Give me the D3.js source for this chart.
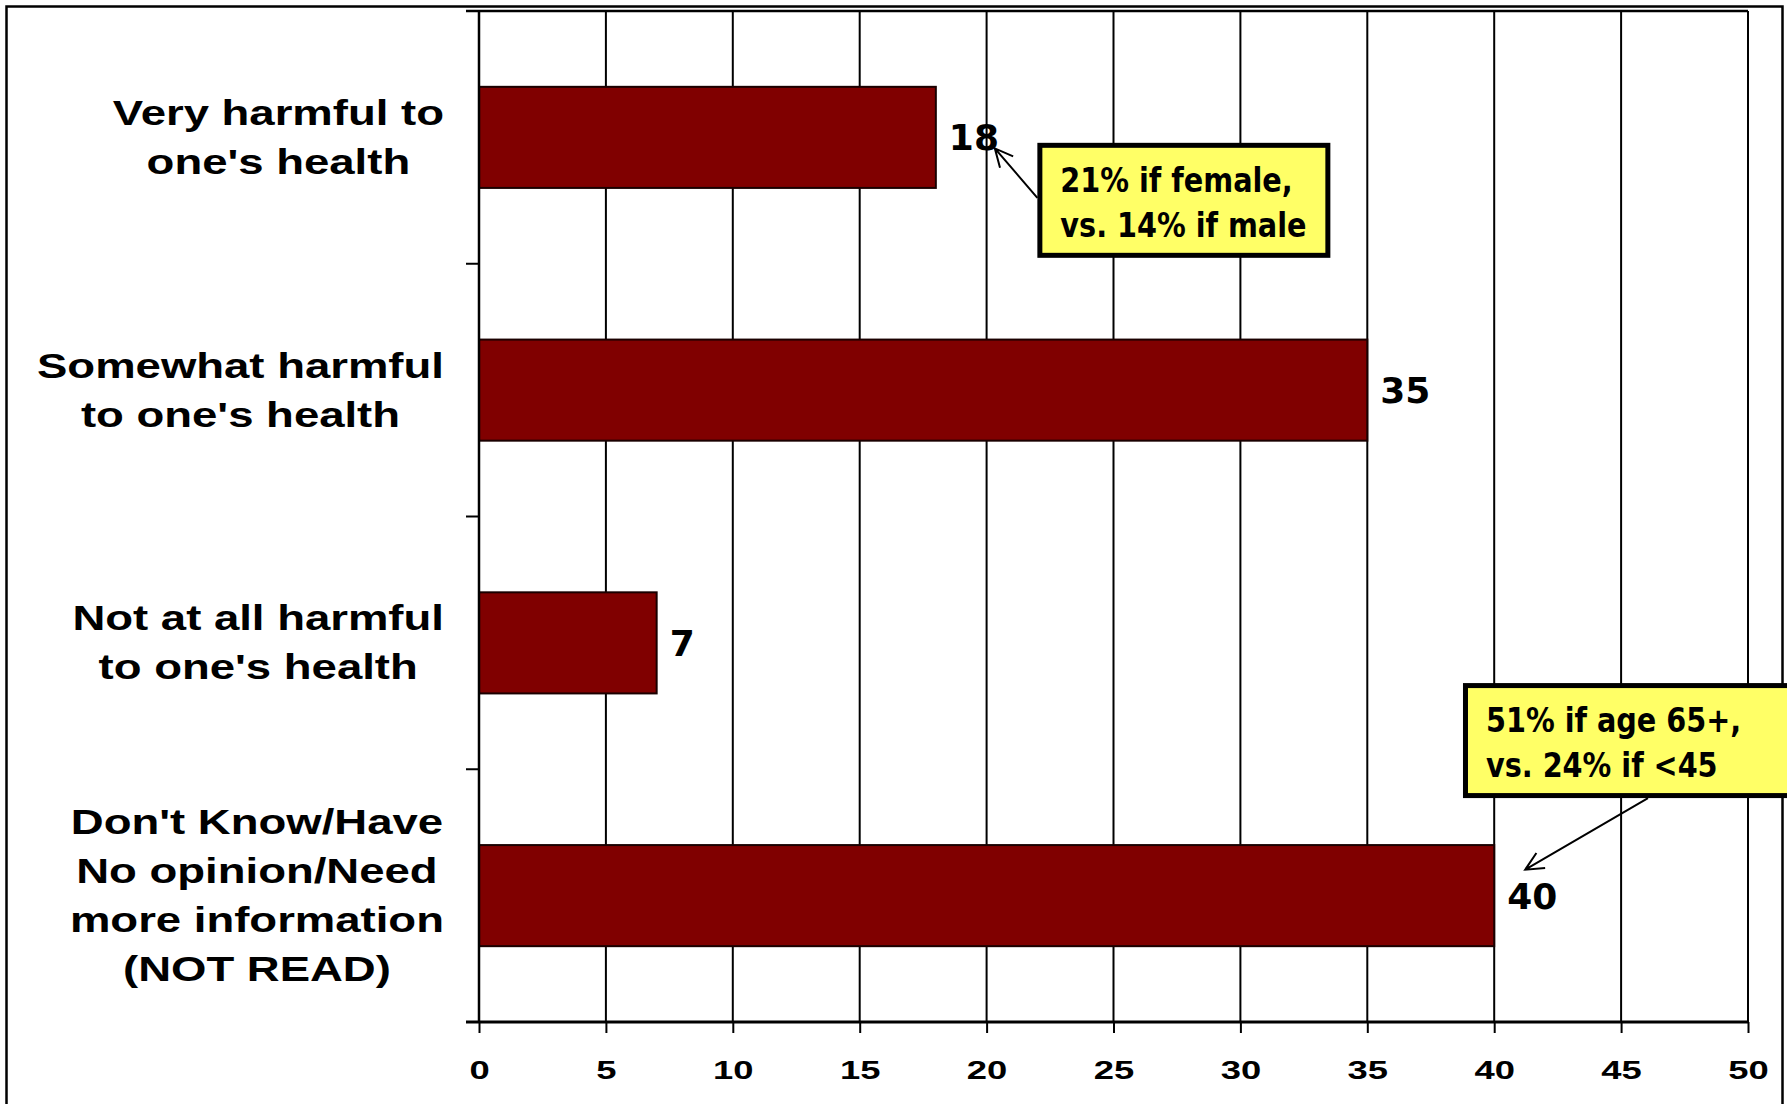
<!DOCTYPE html>
<html>
<head>
<meta charset="utf-8">
<script src="https://cdn.jsdelivr.net/npm/d3@7/dist/d3.min.js"></script>
<style>
  html, body { margin: 0; padding: 0; background: #fff; }
  svg { display: block; }
</style>
</head>
<body>
<svg id="chart" width="1787" height="1104"></svg>
<script>
// ---- data ----
const categories = [
  "Very harmful to\none's health",
  "Somewhat harmful\nto one's health",
  "Not at all harmful\nto one's health",
  "Don't Know/Have\nNo opinion/Need\nmore information\n(NOT READ)"
];
const values = [18, 35, 7, 40];
const xTicks = [0, 5, 10, 15, 20, 25, 30, 35, 40, 45, 50];
const noteTexts = [
  ["21% if female,", "vs. 14% if male"],
  ["51% if age 65+,", "vs. 24% if <45"]
];
const noteTargets = [0, 3]; // index of the bar each note points to

// ---- layout ----
const svg = d3.select("#chart");
const W = 1787, H = 1104;
const plot = { left: 479, right: 1748, top: 11, bottom: 1022 };

const x = d3.scaleLinear().domain([0, 50]).range([plot.left, plot.right]);
const y = d3.scaleBand().domain(categories)
  .range([plot.top, plot.bottom]).paddingInner(0.6).paddingOuter(0.3);
const step = y.step();

// outer frame
svg.append("rect")
  .attr("x", 6.5).attr("y", 6.5).attr("width", 1776).attr("height", H + 20)
  .attr("fill", "#fff").attr("stroke", "#000").attr("stroke-width", 2.5);

// vertical gridlines
svg.append("g").selectAll("line").data(xTicks).join("line")
  .attr("x1", d => x(d)).attr("x2", d => x(d))
  .attr("y1", plot.top).attr("y2", plot.bottom)
  .attr("stroke", "#000").attr("stroke-width", 2);

// plot top border
svg.append("line")
  .attr("x1", plot.left - 13).attr("x2", plot.right)
  .attr("y1", plot.top).attr("y2", plot.top)
  .attr("stroke", "#000").attr("stroke-width", 2.5);

// bars
svg.append("g").selectAll("rect").data(values).join("rect")
  .attr("x", x(0))
  .attr("y", (d, i) => y(categories[i]))
  .attr("width", d => x(d) - x(0))
  .attr("height", y.bandwidth())
  .attr("fill", "#800000")
  .attr("stroke", "#1a0000").attr("stroke-width", 2);

// y axis line and ticks at category boundaries
svg.append("line")
  .attr("x1", plot.left).attr("x2", plot.left)
  .attr("y1", plot.top).attr("y2", plot.bottom)
  .attr("stroke", "#000").attr("stroke-width", 2.5);
svg.append("g").selectAll("line").data(d3.range(categories.length + 1)).join("line")
  .attr("x1", plot.left - 13).attr("x2", plot.left)
  .attr("y1", i => plot.top + i * step).attr("y2", i => plot.top + i * step)
  .attr("stroke", "#000").attr("stroke-width", 2);

// x axis
const xAxis = svg.append("g")
  .attr("transform", `translate(0,${plot.bottom})`)
  .call(d3.axisBottom(x).tickValues(xTicks).tickSize(11).tickPadding(28).tickSizeOuter(0));
xAxis.select(".domain")
  .attr("d", `M${plot.left - 13},0H${plot.right}`)
  .attr("stroke", "#000").attr("stroke-width", 3);
xAxis.selectAll(".tick line").attr("stroke", "#000").attr("stroke-width", 2);
xAxis.selectAll(".tick text")
  .attr("fill", "#000")
  .style("font-family", "'Liberation Sans', Arial, sans-serif")
  .style("font-weight", "bold")
  .style("font-size", "26px")
  .attr("transform", "scale(1.4,1)");

// category labels
const labelRight = 444;
const lineGap = 49;
const catSx = 1.3;
categories.forEach(cat => {
  const lines = cat.split("\n");
  const cy = y(cat) + y.bandwidth() / 2;
  const g = svg.append("g");
  const texts = lines.map((ln, i) => g.append("text")
    .text(ln)
    .attr("text-anchor", "middle")
    .style("font-family", "'Liberation Sans', Arial, sans-serif")
    .style("font-weight", "bold")
    .style("font-size", "35px")
    .attr("fill", "#000"));
  const maxW = d3.max(texts, t => t.node().getComputedTextLength()) * catSx;
  const cx = labelRight - maxW / 2;
  texts.forEach((t, i) => {
    const ly = cy + (i - (lines.length - 1) / 2) * lineGap + 12;
    t.attr("transform", `translate(${cx},${ly}) scale(${catSx},1)`);
  });
});

// value labels
svg.append("g").selectAll("text").data(values).join("text")
  .attr("x", d => x(d) + 13)
  .attr("y", (d, i) => y(categories[i]) + y.bandwidth() / 2 + 13)
  .text(d => d)
  .style("font-family", "'DejaVu Sans', Verdana, sans-serif")
  .style("font-weight", "bold")
  .style("font-size", "36px")
  .attr("fill", "#000");

// annotations
function arrow(x1, y1, x2, y2) {
  const a = Math.atan2(y2 - y1, x2 - x1);
  const L = 20, sp = Math.PI / 7;
  const p = d3.path();
  p.moveTo(x1, y1); p.lineTo(x2, y2);
  p.moveTo(x2 - L * Math.cos(a - sp), y2 - L * Math.sin(a - sp));
  p.lineTo(x2, y2);
  p.lineTo(x2 - L * Math.cos(a + sp), y2 - L * Math.sin(a + sp));
  svg.append("path").attr("d", p.toString())
    .attr("fill", "none").attr("stroke", "#000").attr("stroke-width", 2);
}

function noteBox(bx, by, bw, lines) {
  const g = svg.append("g");
  g.append("rect")
    .attr("x", bx + 2.5).attr("y", by + 2.5).attr("width", bw - 5).attr("height", 110)
    .attr("fill", "#FFFF66").attr("stroke", "#000").attr("stroke-width", 5);
  lines.forEach((ln, i) => {
    g.append("text")
      .text(ln)
      .attr("transform", `translate(${bx + 23},${by + 49 + i * 45}) scale(0.87,1)`)
      .style("font-family", "'DejaVu Sans', Verdana, sans-serif")
      .style("font-weight", "bold")
      .style("font-size", "33px")
      .attr("fill", "#000");
  });
}

// note 1: female/male, pointing at first bar's value label
{
  const i = noteTargets[0];
  const barTop = y(categories[i]);
  const cy = barTop + y.bandwidth() / 2;
  const bx = x(22), by = barTop + 56;
  arrow(bx, by + 55, x(values[i]) + 59, cy + 11);
  noteBox(bx, by, 293, noteTexts[0]);
}
// note 2: age, pointing at last bar's value label
{
  const i = noteTargets[1];
  const barTop = y(categories[i]);
  const cy = barTop + y.bandwidth() / 2;
  const bx = x(38.77), by = barTop - 162;
  arrow(bx + 185, by + 115, x(values[i]) + 31, cy - 26);
  noteBox(bx, by, 400, noteTexts[1]);
}
</script>
</body>
</html>
